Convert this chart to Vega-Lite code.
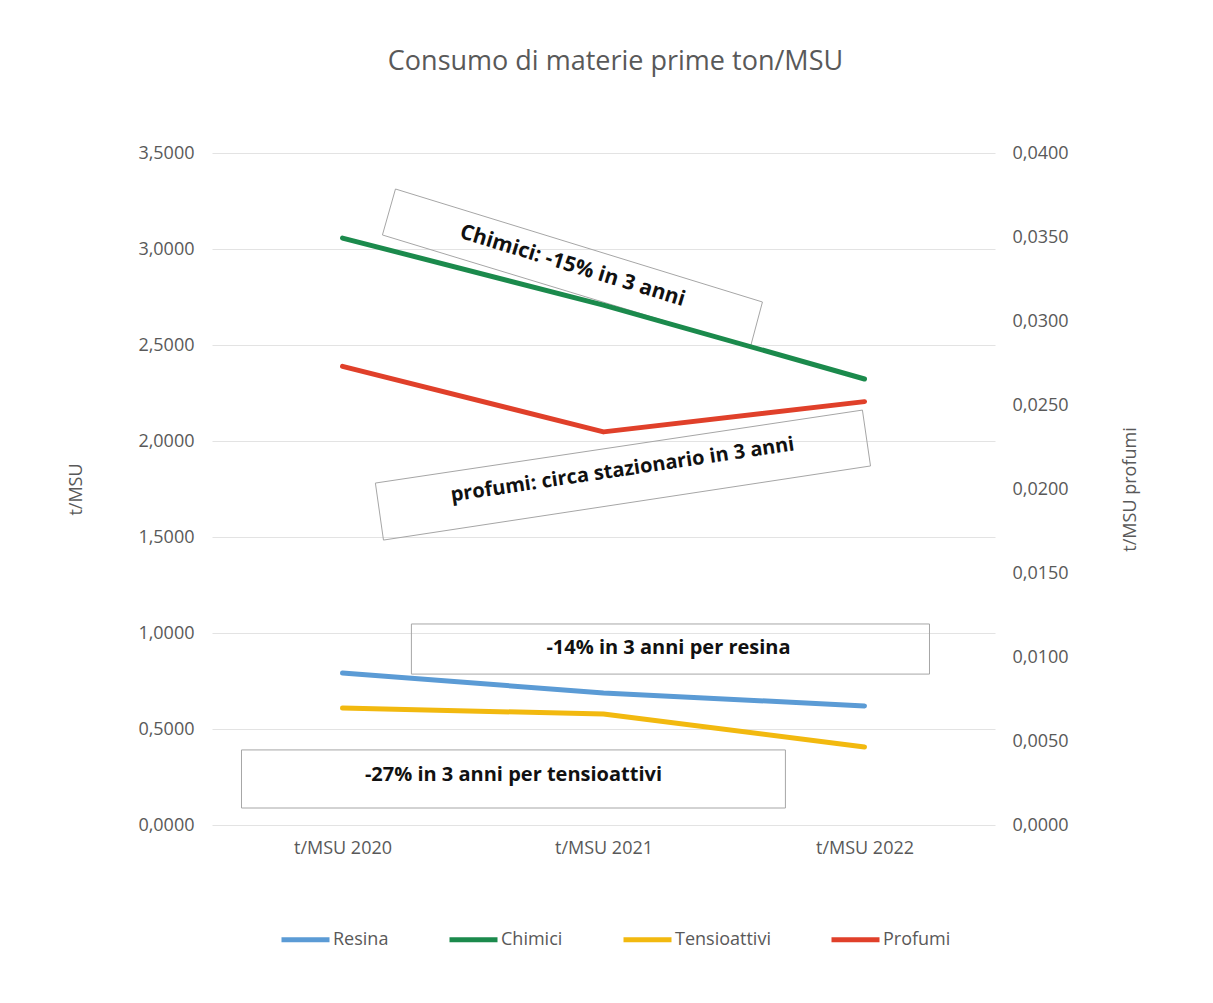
{
  "$schema": "https://vega.github.io/schema/vega-lite/v6.json",
  "width": 783,
  "height": 672,
  "autosize": {"type": "none"},
  "padding": {"left": 212, "top": 153, "right": 218, "bottom": 178},
  "background": "white",
  "title": {
    "text": "Consumo di materie prime ton/MSU",
    "font": "Open Sans",
    "fontSize": 27,
    "fontWeight": "normal",
    "color": "#595959",
    "anchor": "middle",
    "offset": 68,
    "dx": 12
  },
  "config": {
    "view": {"stroke": null},
    "legend": {
      "orient": "none",
      "legendX": 67,
      "legendY": 760,
      "direction": "horizontal",
      "title": null,
      "symbolType": "stroke",
      "symbolSize": 2304,
      "symbolStrokeWidth": 5,
      "labelFont": "Open Sans",
      "labelFontSize": 18,
      "labelColor": "#595959",
      "labelOffset": 1,
      "columnPadding": 50
    }
  },
  "datasets": {
    "serie": [
      {"anno": 2020, "serie": "Resina", "valore": 0.7917},
      {"anno": 2021, "serie": "Resina", "valore": 0.6875},
      {"anno": 2022, "serie": "Resina", "valore": 0.62},
      {"anno": 2020, "serie": "Chimici", "valore": 3.057},
      {"anno": 2021, "serie": "Chimici", "valore": 2.708},
      {"anno": 2022, "serie": "Chimici", "valore": 2.323},
      {"anno": 2020, "serie": "Tensioattivi", "valore": 0.609},
      {"anno": 2021, "serie": "Tensioattivi", "valore": 0.578},
      {"anno": 2022, "serie": "Tensioattivi", "valore": 0.406}
    ],
    "profumi": [
      {"anno": 2020, "serie": "Profumi", "valore": 0.0273},
      {"anno": 2021, "serie": "Profumi", "valore": 0.0234},
      {"anno": 2022, "serie": "Profumi", "valore": 0.0252}
    ],
    "riquadri": [
      {"box": "chimici", "k": 0, "anno": 2020.203, "valore": 3.3125},
      {"box": "chimici", "k": 1, "anno": 2021.609, "valore": 2.724},
      {"box": "chimici", "k": 2, "anno": 2021.563, "valore": 2.49},
      {"box": "chimici", "k": 3, "anno": 2020.153, "valore": 3.073},
      {"box": "chimici", "k": 4, "anno": 2020.203, "valore": 3.3125},
      {"box": "profumi", "k": 0, "anno": 2020.126, "valore": 1.781},
      {"box": "profumi", "k": 1, "anno": 2021.992, "valore": 2.161},
      {"box": "profumi", "k": 2, "anno": 2022.023, "valore": 1.87},
      {"box": "profumi", "k": 3, "anno": 2020.157, "valore": 1.484},
      {"box": "profumi", "k": 4, "anno": 2020.126, "valore": 1.781},
      {"box": "resina", "k": 0, "anno": 2020.264, "valore": 1.047},
      {"box": "resina", "k": 1, "anno": 2022.249, "valore": 1.047},
      {"box": "resina", "k": 2, "anno": 2022.249, "valore": 0.786},
      {"box": "resina", "k": 3, "anno": 2020.264, "valore": 0.786},
      {"box": "resina", "k": 4, "anno": 2020.264, "valore": 1.047},
      {"box": "tensio", "k": 0, "anno": 2019.613, "valore": 0.391},
      {"box": "tensio", "k": 1, "anno": 2021.697, "valore": 0.391},
      {"box": "tensio", "k": 2, "anno": 2021.697, "valore": 0.0885},
      {"box": "tensio", "k": 3, "anno": 2019.613, "valore": 0.0885},
      {"box": "tensio", "k": 4, "anno": 2019.613, "valore": 0.391}
    ],
    "note": [
      {"box": "chimici", "anno": 2020.881, "valore": 2.911, "testo": "Chimici: -15% in 3 anni"},
      {"box": "profumi", "anno": 2021.073, "valore": 1.849, "testo": "profumi: circa stazionario in 3 anni"},
      {"box": "resina", "anno": 2021.249, "valore": 0.922, "testo": "-14% in 3 anni per resina"},
      {"box": "tensio", "anno": 2020.655, "valore": 0.26, "testo": "-27% in 3 anni per tensioattivi"}
    ]
  },
  "encoding": {
    "x": {
      "field": "anno", "type": "quantitative",
      "scale": {"domain": [2019.5, 2022.5]},
      "axis": {
        "values": [2020, 2021, 2022],
        "labelExpr": "'t/MSU ' + datum.value",
        "title": null,
        "grid": false, "domain": false, "ticks": false,
        "labelFont": "Open Sans", "labelFontSize": 18, "labelColor": "#595959",
        "labelPadding": 14
      }
    }
  },
  "layer": [
    {
      "encoding": {
        "y": {
          "field": "valore", "type": "quantitative",
          "scale": {"domain": [0, 3.5]},
          "axis": {
            "orient": "left",
            "values": [0, 0.5, 1, 1.5, 2, 2.5, 3, 3.5],
            "labelExpr": "replace(format(datum.value, '.4f'), '.', ',')",
            "title": "t/MSU",
            "titleFont": "Open Sans", "titleFontSize": 18, "titleFontWeight": "normal", "titleColor": "#595959",
            "titleAngle": 270, "titlePadding": 52,
            "labelFont": "Open Sans", "labelFontSize": 18, "labelColor": "#595959",
            "labelPadding": 18,
            "domain": false, "ticks": false,
            "grid": true, "gridColor": "#e3e3e3", "gridWidth": 1
          }
        }
      },
      "layer": [
        {
          "data": {"name": "riquadri"},
          "mark": {"type": "line", "stroke": "#a6a6a6", "strokeWidth": 1},
          "encoding": {
            "detail": {"field": "box"},
            "order": {"field": "k", "type": "quantitative"}
          }
        },
        {
          "data": {"name": "note"},
          "transform": [{"filter": "datum.box === 'chimici'"}],
          "mark": {"type": "text", "font": "Open Sans", "fontSize": 21, "fontWeight": "bold", "color": "#111111", "angle": 17, "align": "center", "baseline": "middle"},
          "encoding": {"text": {"field": "testo"}}
        },
        {
          "data": {"name": "note"},
          "transform": [{"filter": "datum.box === 'profumi'"}],
          "mark": {"type": "text", "font": "Open Sans", "fontSize": 20, "fontWeight": "bold", "color": "#111111", "angle": -8.5, "align": "center", "baseline": "middle"},
          "encoding": {"text": {"field": "testo"}}
        },
        {
          "data": {"name": "note"},
          "transform": [{"filter": "datum.box === 'resina' || datum.box === 'tensio'"}],
          "mark": {"type": "text", "font": "Open Sans", "fontSize": 20, "fontWeight": "bold", "color": "#111111", "align": "center", "baseline": "middle"},
          "encoding": {"text": {"field": "testo"}}
        },
        {
          "data": {"name": "serie"},
          "mark": {"type": "line", "strokeWidth": 5, "strokeCap": "round", "strokeJoin": "round"},
          "encoding": {
            "color": {
              "field": "serie", "type": "nominal",
              "scale": {"domain": ["Resina", "Chimici", "Tensioattivi", "Profumi"], "range": ["#5b9bd5", "#1b8a4c", "#f2b90f", "#e0402a"]}
            }
          }
        }
      ]
    },
    {
      "data": {"name": "profumi"},
      "mark": {"type": "line", "strokeWidth": 5, "strokeCap": "round", "strokeJoin": "round"},
      "encoding": {
        "y": {
          "field": "valore", "type": "quantitative",
          "scale": {"domain": [0, 0.04]},
          "axis": {
            "orient": "right",
            "values": [0, 0.005, 0.01, 0.015, 0.02, 0.025, 0.03, 0.035, 0.04],
            "labelExpr": "replace(format(datum.value, '.4f'), '.', ',')",
            "title": "t/MSU profumi",
            "titleFont": "Open Sans", "titleFontSize": 18, "titleFontWeight": "normal", "titleColor": "#595959",
            "titleAngle": 270, "titlePadding": 71,
            "labelFont": "Open Sans", "labelFontSize": 18, "labelColor": "#595959",
            "labelPadding": 17,
            "domain": false, "ticks": false, "grid": false
          }
        },
        "color": {
          "field": "serie", "type": "nominal",
          "scale": {"domain": ["Resina", "Chimici", "Tensioattivi", "Profumi"], "range": ["#5b9bd5", "#1b8a4c", "#f2b90f", "#e0402a"]}
        }
      }
    }
  ],
  "resolve": {"scale": {"y": "independent"}}
}
